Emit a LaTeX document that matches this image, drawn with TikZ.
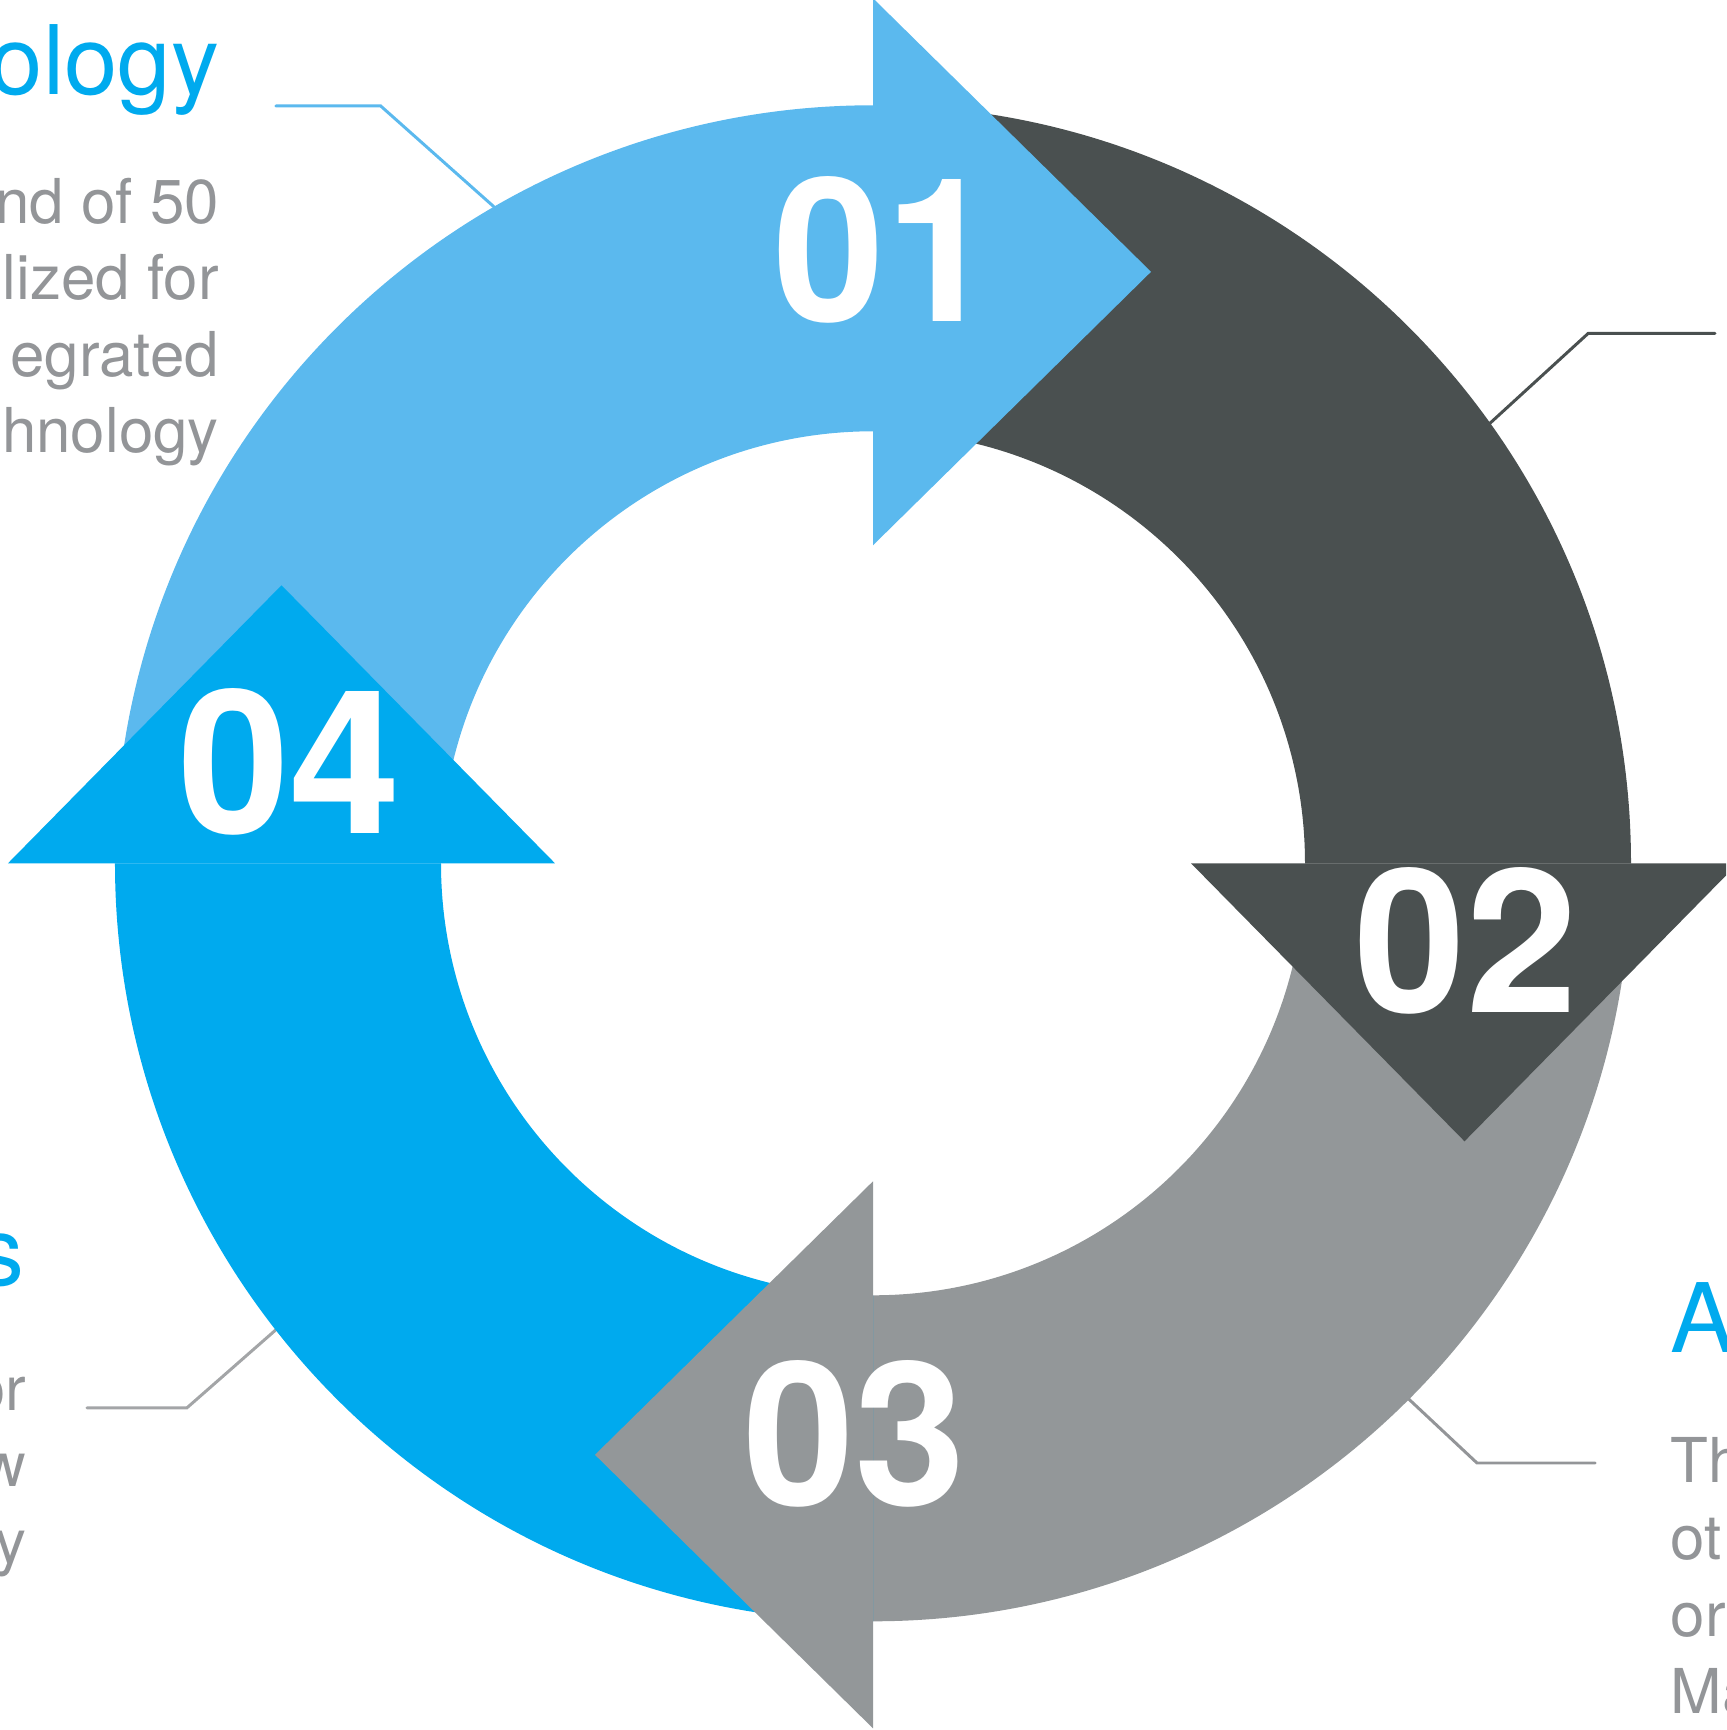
\documentclass[tikz,border=0pt]{standalone}
\usepackage{fontspec}
\setmainfont{TeX Gyre Heros}
\usepackage{tikz}
\definecolor{skyblue}{HTML}{5BB9EE}
\definecolor{slate}{HTML}{4A5050}
\definecolor{ash}{HTML}{939799}
\definecolor{cyanblue}{HTML}{00AAEE}
\definecolor{textgrey}{HTML}{939598}
\definecolor{paleline}{HTML}{A3A5A7}

\begin{document}
\begin{tikzpicture}[
    stepnum/.style={text=white,font=\fontsize{57}{57}\selectfont\bfseries,inner sep=0pt},
    heading/.style={text=cyanblue,font=\fontsize{27.3}{30}\selectfont,inner sep=0pt},
    body/.style={text=textgrey,font=\fontsize{17.6}{21.8}\selectfont,inner sep=0pt},
    leader/.style={line width=0.85pt,line cap=round}]
  \useasboundingbox (-8.73,-8.667) rectangle (8.53,8.633);
  \clip (-8.73,-8.667) rectangle (8.53,8.633);
  % leader lines, drawn first so the ring hides their inner ends
  \coordinate (tl-ring) at (120:7.58);
  \coordinate (tl-elbow) at (-4.923,7.573);
  \coordinate (tl-end) at (-5.971,7.573);
  \coordinate (tr-ring) at (35.5:7.58);
  \coordinate (tr-elbow) at (7.153,5.30);
  \coordinate (tr-end) at (8.42,5.30);
  \coordinate (bl-ring) at (218:7.58);
  \coordinate (bl-elbow) at (-6.86,-5.445);
  \coordinate (bl-end) at (-7.86,-5.445);
  \coordinate (br-ring) at (-45:7.58);
  \coordinate (br-elbow) at (6.04,-5.997);
  \coordinate (br-end) at (7.22,-5.997);
  \draw[leader,skyblue] (tl-ring) -- (tl-elbow) -- (tl-end);
  \draw[leader,slate] (tr-ring) -- (tr-elbow) -- (tr-end);
  \draw[leader,paleline] (bl-ring) -- (bl-elbow) -- (bl-end);
  \draw[leader,textgrey] (br-ring) -- (br-elbow) -- (br-end);
  % ring quarters
  \foreach \a/\col in {180/skyblue,90/slate,0/ash,-90/cyanblue}
    \fill[\col] (\a:7.58) arc[start angle=\a,delta angle=-90,radius=7.58]
      -- ({\a-90}:4.32) arc[start angle=\a-90,delta angle=90,radius=4.32] -- cycle;
  % arrow heads on top
  \foreach \a/\col in {0/skyblue,-90/slate,-180/ash,-270/cyanblue}
    \fill[\col,rotate=\a] (0,3.18) -- (2.78,5.915) -- (0,8.65) -- cycle;
  \node[stepnum] (n01) at (0.12,6.13) {01};
  \node[stepnum] (n02) at (5.93,-0.775) {02};
  \node[stepnum] (n03) at (-0.185,-5.708) {03};
  \node[stepnum] (n04) at (-5.835,1.013) {04};
  % captions
  \node[heading,anchor=base east] (tl-title) at (-6.53,7.69) {ology};
  \foreach \t [count=\i] in {nd of 50,lized for,egrated,hnology}
    \node[body,anchor=base east] (tl-\i) at (-6.535,{6.40-0.765*(\i-1)}) {\t};
  \node[heading,anchor=base east] (bl-title) at (-8.48,-4.22) {s};
  \foreach \t [count=\i] in {or,w,y}
    \node[body,anchor=base east] (bl-\i) at (-8.46,{-5.47-0.765*(\i-1)}) {\t};
  \node[heading,anchor=base west] (br-title) at (7.97,-4.887) {A};
  \foreach \t [count=\i] in {Th,ot,or,Ma}
    \node[body,anchor=base west] (br-\i) at (7.97,{-6.187-0.77*(\i-1)}) {\t};
\end{tikzpicture}
\end{document}
